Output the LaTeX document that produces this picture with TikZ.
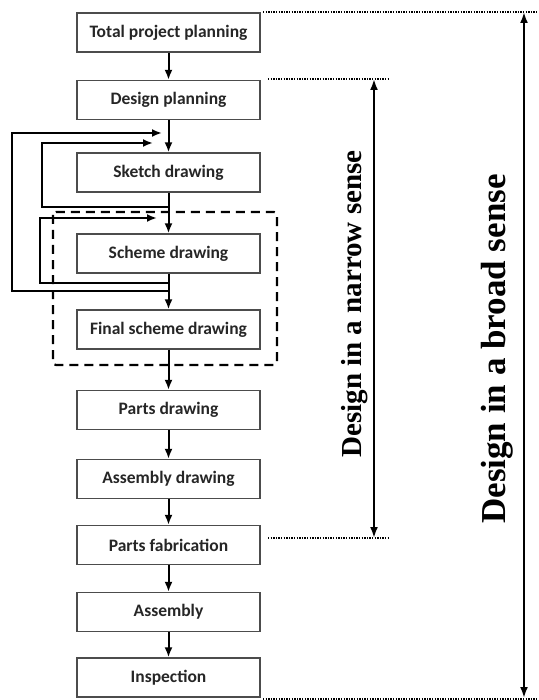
\documentclass[tikz,border=0pt]{standalone}
\usepackage{fontspec}
\setmainfont{Liberation Serif}
\newfontfamily\boxfont{Carlito}
\usetikzlibrary{arrows.meta}

\begin{document}
\begin{tikzpicture}[x=1pt, y=-1pt,
    flow/.style={-{Latex[length=10pt,width=8pt]}, line width=2pt},
    twoway/.style={{Latex[length=11pt,width=8pt]}-{Latex[length=11pt,width=8pt]}, line width=2.2pt},
    stagebox/.style={draw=black!70, line width=1.3pt, fill=white, minimum width=183pt,
      minimum height=39pt, inner sep=0pt, text=black!85,
      font=\boxfont\bfseries\fontsize{17.5}{19}\selectfont},
    spanline/.style={dash pattern=on 1.4pt off 1.2pt, line width=2pt},
    fence/.style={dash pattern=on 9pt off 6pt, line width=2.2pt, rounded corners=3pt}]
    \useasboundingbox (0,0) rectangle (538,700);
    % process chain
    \foreach \name/\y/\label in {total/32.5/Total project planning, design/100/Design planning,
        sketch/172.5/Sketch drawing, scheme/253.5/Scheme drawing, final/329.5/Final scheme drawing,
        parts/410/Parts drawing, assdraw/479/Assembly drawing, fab/545/Parts fabrication,
        assembly/612/Assembly, inspect/677.5/Inspection} {
      \node[stagebox] (\name) at (168.5,\y) {\label};
    }
    \draw[fence] (53,212) rectangle (277,365);
    \foreach \a/\b in {total/design, design/sketch, sketch/scheme, scheme/final, final/parts,
        parts/assdraw, assdraw/fab, fab/assembly, assembly/inspect} {
      \draw[flow] (\a) -- (\b);
    }
    % feedback loops
    \coordinate (skback) at (168.5,207);
    \coordinate (scback) at (168.5,283);
    \coordinate (scfar) at (168.5,291);
    \coordinate (skin) at (153,143);
    \coordinate (skinfar) at (162,133);
    \coordinate (scin) at (157,218);
    \draw[flow] (skback) -- (42,207) -- (42,143) -- (skin);
    \draw[flow] (scback) -- (40,283) -- (40,218) -- (scin);
    \draw[flow] (scfar) -- (12,291) -- (12,133) -- (skinfar);
    % extent of design
    \coordinate (ntop) at (374,79);
    \coordinate (nbot) at (374,538);
    \coordinate (btop) at (524,12);
    \coordinate (bbot) at (524,698);
    \draw[spanline] (268,79) -- (388,79);
    \draw[spanline] (268,538) -- (388,538);
    \draw[spanline] (263,12) -- (538,12);
    \draw[spanline] (263,698.5) -- (538,698.5);
    \draw[twoway] (ntop) -- (nbot);
    \draw[twoway] (btop) -- (bbot);
    \node[rotate=90, font=\bfseries\fontsize{29}{30}\selectfont] (narrow) at (355,304)
      {Design in a narrow sense};
    \node[rotate=90, font=\bfseries\fontsize{35}{36}\selectfont] (broad) at (497,349)
      {Design in a broad sense};
\end{tikzpicture}
\end{document}
